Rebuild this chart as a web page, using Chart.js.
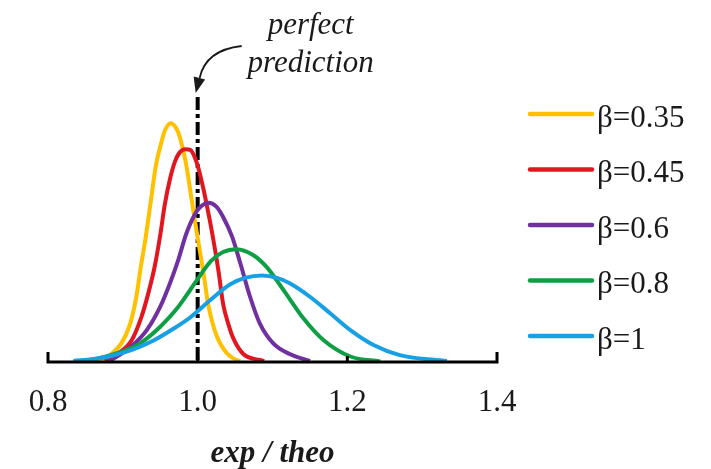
<!DOCTYPE html>
<html>
<head>
<meta charset="utf-8">
<script src="https://cdn.jsdelivr.net/npm/chart.js@4.4.0/dist/chart.umd.min.js"></script>
<style>
  html, body { margin: 0; padding: 0; background: #fff; }
</style>
</head>
<body>
<canvas id="chart" width="711" height="469"></canvas>
<script>
const serif = '"Liberation Serif", "Times New Roman", serif';

const betaLabels = ['β=0.35', 'β=0.45', 'β=0.6', 'β=0.8', 'β=1'];
const lineColors = ['#FFC000', '#E2161F', '#7030A0', '#0E9F45', '#17A0E4'];
const xTicks = [0.8, 1.0, 1.2, 1.4];

// exp/theo ratio and probability density for each beta
const b035X = [0.869, 0.883, 0.898, 0.910, 0.918, 0.924, 0.930, 0.938, 0.944, 0.952, 0.956, 0.964, 0.971, 0.976, 0.985, 0.992, 0.999, 1.008, 1.014, 1.025, 1.039, 1.052, 1.057];
const b035Y = [0.06, 0.39, 1.05, 2.18, 3.67, 5.36, 6.88, 9.25, 11.05, 12.46, 13.03, 13.46, 13.20, 12.71, 11.05, 9.14, 7.26, 4.96, 3.27, 1.52, 0.49, 0.11, 0.06];

const b045X = [0.876, 0.894, 0.912, 0.925, 0.934, 0.943, 0.950, 0.956, 0.963, 0.970, 0.976, 0.984, 0.990, 0.999, 1.008, 1.014, 1.021, 1.028, 1.034, 1.041, 1.048, 1.061, 1.083, 1.089];
const b045Y = [0.06, 0.49, 1.24, 2.56, 3.87, 5.47, 7.16, 8.86, 10.32, 11.34, 11.82, 12.00, 11.96, 11.21, 9.70, 8.46, 6.88, 5.08, 3.27, 2.14, 1.30, 0.45, 0.11, 0.06];

const b06X = [0.883, 0.910, 0.932, 0.950, 0.963, 0.974, 0.985, 0.999, 1.006, 1.014, 1.025, 1.034, 1.046, 1.057, 1.070, 1.083, 1.101, 1.123, 1.150];
const b06Y = [0.06, 0.83, 1.80, 3.12, 4.44, 5.75, 7.26, 8.52, 8.83, 8.98, 8.76, 8.18, 7.07, 5.57, 3.68, 2.18, 1.05, 0.45, 0.06];

const b08X = [0.856, 0.905, 0.923, 0.950, 0.974, 0.990, 0.999, 1.018, 1.034, 1.052, 1.074, 1.092, 1.110, 1.123, 1.141, 1.168, 1.204, 1.244];
const b08Y = [0.06, 0.68, 1.05, 1.99, 3.10, 4.06, 4.62, 5.70, 6.20, 6.36, 6.03, 5.36, 4.34, 3.55, 2.48, 1.24, 0.31, 0.03];

const b1X = [0.834, 0.861, 0.887, 0.914, 0.941, 0.967, 0.990, 1.017, 1.043, 1.063, 1.086, 1.106, 1.123, 1.150, 1.177, 1.204, 1.235, 1.270, 1.333];
const b1Y = [0.06, 0.17, 0.37, 0.71, 1.21, 1.86, 2.51, 3.50, 4.37, 4.74, 4.88, 4.74, 4.44, 3.68, 2.75, 1.80, 0.96, 0.39, 0.06];

const seriesX = [b035X, b045X, b06X, b08X, b1X];
const seriesY = [b035Y, b045Y, b06Y, b08Y, b1Y];

function toPoints(xs, ys) {
  return xs.map((v, i) => ({x: v, y: ys[i]}));
}

const datasets = betaLabels.map((label, i) => ({
  label: label,
  data: toPoints(seriesX[i], seriesY[i]),
  borderColor: lineColors[i],
  borderWidth: 4,
  pointRadius: 0,
  showLine: true,
  fill: false,
  cubicInterpolationMode: 'monotone',
  order: betaLabels.length - i
}));

// background, dash-dot reference line, axis, legend and the annotation
const extras = {
  id: 'extras',
  beforeDraw(chart) {
    const ctx = chart.ctx;
    ctx.save();
    ctx.fillStyle = '#fff';
    ctx.fillRect(0, 0, chart.width, chart.height);
    ctx.restore();
  },
  beforeDatasetsDraw(chart) {
    const {ctx, chartArea, scales} = chart;
    const xp = scales.x.getPixelForValue(1.0);
    ctx.save();
    ctx.strokeStyle = '#000';
    ctx.lineWidth = 4;
    ctx.setLineDash([13, 4, 4, 4]);
    ctx.beginPath();
    ctx.moveTo(xp, chartArea.top + 1);
    ctx.lineTo(xp, chartArea.bottom);
    ctx.stroke();
    ctx.restore();
  },
  afterDatasetsDraw(chart) {
    const {ctx, chartArea, scales} = chart;
    const x = scales.x;
    const b = chartArea.bottom;
    ctx.save();
    ctx.strokeStyle = '#000';
    ctx.lineWidth = 3;
    const l = x.getPixelForValue(xTicks[0]);
    const r = x.getPixelForValue(xTicks[xTicks.length - 1]);
    ctx.beginPath();
    ctx.moveTo(l, b - 10);
    ctx.lineTo(l, b);
    ctx.lineTo(r, b);
    ctx.lineTo(r, b - 10);
    ctx.stroke();
    xTicks.slice(1, -1).forEach(t => {
      const p = x.getPixelForValue(t);
      ctx.beginPath();
      ctx.moveTo(p, b);
      ctx.lineTo(p, b - 6);
      ctx.stroke();
    });
    ctx.restore();
  },
  afterDraw(chart) {
    const {ctx, chartArea, scales} = chart;
    const xp = scales.x.getPixelForValue(1.0);

    // legend
    ctx.save();
    ctx.font = '31px ' + serif;
    ctx.textAlign = 'left';
    ctx.textBaseline = 'alphabetic';
    chart.data.datasets.forEach((ds, i) => {
      const y = 114 + i * 55.5;
      ctx.strokeStyle = ds.borderColor;
      ctx.lineWidth = 4.5;
      ctx.lineCap = 'round';
      ctx.beginPath();
      ctx.moveTo(chartArea.right + 33, y);
      ctx.lineTo(chartArea.right + 95, y);
      ctx.stroke();
      ctx.fillStyle = '#1a1a1a';
      ctx.fillText(ds.label, chartArea.right + 100, y + 12.5);
    });
    ctx.restore();

    // "perfect prediction" note with curved arrow
    ctx.save();
    ctx.fillStyle = '#1a1a1a';
    ctx.font = 'italic 31px ' + serif;
    ctx.textAlign = 'center';
    ctx.fillText('perfect', xp + 113, 34);
    ctx.fillText('prediction', xp + 113, 72);
    ctx.strokeStyle = '#1a1a1a';
    ctx.lineWidth = 1.8;
    ctx.beginPath();
    ctx.moveTo(xp + 44, 46);
    ctx.quadraticCurveTo(xp + 8, 50, xp + 2, 78);
    ctx.stroke();
    ctx.beginPath();
    ctx.moveTo(xp - 2, 93);
    ctx.lineTo(xp + 7.5, 79.5);
    ctx.lineTo(xp - 4, 76.5);
    ctx.closePath();
    ctx.fill();
    ctx.restore();
  }
};

const chart = new Chart(document.getElementById('chart').getContext('2d'), {
  type: 'scatter',
  data: { datasets: datasets },
  options: {
    responsive: false,
    animation: false,
    layout: { padding: { left: 48, right: 214, top: 96, bottom: 0 } },
    plugins: {
      legend: { display: false },
      tooltip: { enabled: false }
    },
    scales: {
      x: {
        type: 'linear',
        min: 0.8,
        max: 1.4,
        afterFit: s => { s.height = 107; },
        afterBuildTicks: s => { s.ticks = xTicks.map(v => ({value: v})); },
        grid: { display: false, drawTicks: false },
        border: { display: false },
        ticks: {
          autoSkip: false,
          padding: 22,
          color: '#1a1a1a',
          font: { family: serif, size: 31 },
          callback: v => Number(v).toFixed(1)
        },
        title: {
          display: true,
          text: 'exp / theo',
          color: '#1a1a1a',
          padding: { top: 0, bottom: 0 },
          font: { family: serif, size: 31, style: 'italic', weight: 'bold', lineHeight: 1.0 }
        }
      },
      y: {
        display: false,
        min: 0,
        max: 15
      }
    }
  },
  plugins: [extras]
});
</script>
</body>
</html>
